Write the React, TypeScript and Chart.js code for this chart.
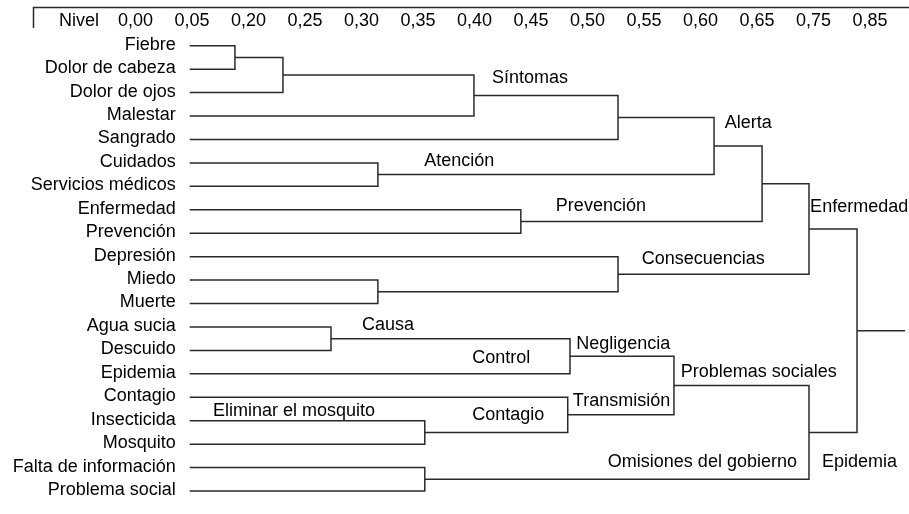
import React, { useEffect, useRef } from "react";
import { Chart, registerables } from "chart.js";

Chart.register(...registerables);

// Level tick labels shown along the top axis (one per integer axis position)
const levelTicks = ["Nivel", "0,00", "0,05", "0,20", "0,25", "0,30", "0,35", "0,40", "0,45", "0,50", "0,55", "0,60", "0,65", "0,75", "0,85"];

// Leaves (top to bottom)
const leaves = [
  "Fiebre", "Dolor de cabeza", "Dolor de ojos", "Malestar", "Sangrado",
  "Cuidados", "Servicios médicos", "Enfermedad", "Prevención", "Depresión",
  "Miedo", "Muerte", "Agua sucia", "Descuido", "Epidemia",
  "Contagio", "Insecticida", "Mosquito", "Falta de información", "Problema social",
];

// Level (in axis units) where every leaf line starts, and where the root line ends
const leafStart = 1.96;
const rootEnd = 14.62;

// Merges: node ids 0..19 are leaves, merge j creates node 20 + j
const mergeA = [0, 20, 21, 22, 5, 23, 7, 25, 10, 9, 27, 12, 31, 16, 15, 32, 18, 35, 30];
const mergeB = [1, 2, 3, 4, 6, 24, 8, 26, 11, 28, 29, 13, 14, 17, 33, 34, 19, 36, 37];
const mergeHeight = [2.76, 3.61, 6.99, 9.54, 5.29, 11.24, 7.82, 12.09, 5.29, 9.54, 12.92, 4.46, 8.69, 6.12, 8.65, 10.53, 6.12, 12.92, 13.77];

// Cluster name annotations (anchored in axis units: level, leaf row)
const annText = ["Síntomas", "Alerta", "Atención", "Prevención", "Enfermedad", "Consecuencias", "Causa", "Control", "Negligencia", "Problemas sociales", "Transmisión", "Contagio", "Eliminar el mosquito", "Omisiones del gobierno", "Epidemia"];
const annLevel = [7.31, 11.43, 6.11, 8.44, 12.94, 9.96, 5.01, 6.96, 8.80, 10.65, 8.74, 6.96, 2.37, 9.36, 13.15];
const annRow = [1.38, 3.30, 4.92, 6.84, 6.88, 9.10, 11.92, 13.32, 12.73, 13.92, 15.16, 15.76, 15.58, 17.76, 17.76];

const FONT = "Liberation Sans, Arial, Helvetica, sans-serif";
const LINE = "#2b2b2b";

function buildDatasets() {
  const nodeX: number[] = leaves.map(() => leafStart);
  const nodeY: number[] = leaves.map((_, i) => i);
  const datasets: any[] = [];
  mergeA.forEach((a, j) => {
    const b = mergeB[j];
    const h = mergeHeight[j];
    datasets.push({
      data: [
        { x: nodeX[a], y: nodeY[a] },
        { x: h, y: nodeY[a] },
        { x: h, y: nodeY[b] },
        { x: nodeX[b], y: nodeY[b] },
      ],
    });
    nodeX.push(h);
    nodeY.push((nodeY[a] + nodeY[b]) / 2);
  });
  const root = nodeX.length - 1;
  datasets.push({
    data: [
      { x: nodeX[root], y: nodeY[root] },
      { x: rootEnd, y: nodeY[root] },
    ],
  });
  return datasets.map((d) => ({
    ...d,
    showLine: true,
    borderColor: LINE,
    borderWidth: 1.5,
    pointRadius: 0,
    pointHoverRadius: 0,
    tension: 0,
    fill: false,
  }));
}

const labelsPlugin = {
  id: "dendroLabels",
  afterDraw(chart: any) {
    const { ctx } = chart;
    const xs = chart.scales.x;
    const ys = chart.scales.y;
    ctx.save();
    // frame at the top
    ctx.strokeStyle = LINE;
    ctx.lineWidth = 1.5;
    ctx.beginPath();
    ctx.moveTo(chart.chartArea.left, xs.top + 0.5);
    ctx.lineTo(chart.width, xs.top + 0.5);
    ctx.moveTo(chart.chartArea.left + 0.5, xs.top);
    ctx.lineTo(chart.chartArea.left + 0.5, xs.bottom - 2);
    ctx.stroke();

    ctx.fillStyle = "#000";
    ctx.font = `18px ${FONT}`;
    ctx.textBaseline = "middle";
    ctx.textAlign = "right";
    const lx = xs.getPixelForValue(leafStart) - 14;
    leaves.forEach((name, i) => {
      ctx.fillText(name, lx, ys.getPixelForValue(i) - 1);
    });
    ctx.textAlign = "left";
    annText.forEach((t, i) => {
      ctx.fillText(t, xs.getPixelForValue(annLevel[i]), ys.getPixelForValue(annRow[i]));
    });
    ctx.restore();
  },
};

export default function App() {
  const ref = useRef<HTMLCanvasElement | null>(null);
  useEffect(() => {
    document.body.style.margin = "0";
    if (!ref.current) return;
    const chart = new Chart(ref.current, {
      type: "scatter",
      data: { datasets: buildDatasets() },
      options: {
        animation: false,
        responsive: false,
        events: [],
        layout: { padding: { top: 7, left: 33, right: 0, bottom: 4 } },
        plugins: { legend: { display: false }, tooltip: { enabled: false } },
        scales: {
          x: {
            type: "linear",
            position: "top",
            min: -0.814,
            max: 14.69,
            grid: { display: false, drawTicks: false },
            border: { display: false },
            afterBuildTicks: (scale: any) => {
              scale.ticks = levelTicks.map((_, i) => ({ value: i }));
            },
            afterFit: (scale: any) => {
              scale.height = 23;
            },
            ticks: {
              autoSkip: false,
              maxRotation: 0,
              padding: -2,
              color: "#000",
              font: { family: FONT, size: 18 },
              callback: (v: any) => levelTicks[Math.round(v)] ?? "",
            },
          },
          y: {
            type: "linear",
            display: false,
            reverse: true,
            min: -0.67,
            max: 19.81,
          },
        },
      },
      plugins: [labelsPlugin],
    });
    return () => chart.destroy();
  }, []);
  return (
    <div style={{ width: 909, height: 514 }}>
      <canvas ref={ref} width={909} height={514} style={{ display: "block" }} />
    </div>
  );
}
